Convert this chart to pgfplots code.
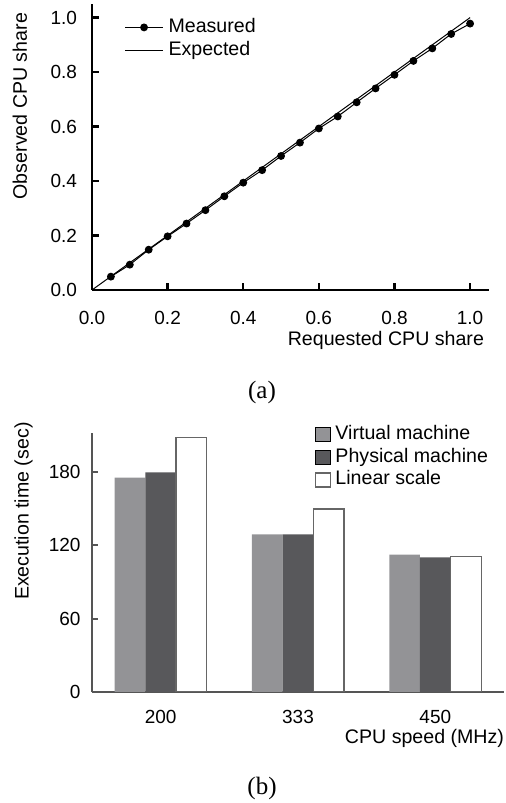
\documentclass[border=0pt]{standalone}
\usepackage{pgfplots}
\pgfplotsset{compat=1.18}
\usepackage{fontspec}
\setmainfont{Liberation Sans}
\newfontfamily\capfont{Liberation Serif}

\definecolor{vmgray}{HTML}{939396}
\definecolor{pmgray}{HTML}{58585B}
\definecolor{axgray}{HTML}{555555}
\definecolor{lsedge}{HTML}{666666}

\tikzset{
  ticksfont/.style={font=\fontsize{9.5bp}{11bp}\selectfont},
  labfont/.style={font=\fontsize{9.8bp}{11.5bp}\selectfont},
}

\begin{document}
\begin{tikzpicture}
\useasboundingbox (0bp,0bp) rectangle (253bp,401.5bp);

% (a) requested vs observed CPU share
\begin{axis}[
  at={(46bp,256.5bp)}, anchor=south west,
  scale only axis, width=198.5bp, height=143bp,
  xmin=0, xmax=1.05, ymin=0, ymax=1.05,
  enlargelimits=false,
  axis lines=left,
  axis line style={-, black, line width=1.15bp},
  tick align=inside, major tick length=3.5bp,
  tick style={black, line width=1.15bp},
  xtick={0,0.2,0.4,0.6,0.8,1},
  xticklabels={0.0,0.2,0.4,0.6,0.8,1.0},
  ytick={0,0.2,0.4,0.6,0.8,1},
  yticklabels={0.0,0.2,0.4,0.6,0.8,1.0},
  ticklabel style={ticksfont},
  xticklabel style={yshift=-7bp},
  yticklabel style={xshift=-4bp},
  xlabel={Requested CPU share},
  ylabel={Observed CPU share},
  xlabel style={labfont, at={(axis description cs:1.005,-0.119)}, anchor=north east},
  ylabel style={labfont, at={(axis description cs:-0.146,0.993)}, anchor=south east},
  legend style={at={(axis description cs:0.081,0.951)}, anchor=north west,
    draw=none, fill=none, inner sep=0pt, row sep=2.5bp, column sep=2.5bp,
    labfont, nodes={inner sep=0pt, text height=7bp, text depth=2bp}},
  legend cell align=left,
  legend image code/.code={\draw[mark repeat=2,mark phase=2,#1]
    plot coordinates {(0bp,0bp) (9.5bp,0bp) (19bp,0bp)};},
]
\addplot[black, line width=0.5bp, mark=*, mark size=1.7bp, mark options={solid}]
  coordinates {
  (0.05,0.049) (0.10,0.093) (0.15,0.148) (0.20,0.197) (0.25,0.244)
  (0.30,0.293) (0.35,0.344) (0.40,0.394) (0.45,0.440) (0.50,0.492)
  (0.55,0.541) (0.60,0.593) (0.65,0.637) (0.70,0.689) (0.75,0.740)
  (0.80,0.790) (0.85,0.841) (0.90,0.887) (0.95,0.940) (1.00,0.978)
  };
\addlegendentry{Measured}
\addplot[black, line width=0.5bp] coordinates {(0,0) (1,1)};
\addlegendentry{Expected}
\end{axis}

% (b) execution time vs CPU speed
\begin{axis}[
  at={(46bp,55.5bp)}, anchor=south west,
  scale only axis, width=206bp, height=129.5bp,
  xmin=-0.5, xmax=2.5, ymin=0, ymax=212,
  axis lines=left,
  axis line style={-, axgray, line width=1bp},
  ybar=0pt, bar width=15.35bp,
  tick align=inside, major tick length=3bp,
  xtick={0,1,2}, xticklabels={200,333,450},
  xtick style={draw=none},
  ytick={0,60,120,180},
  ytick style={axgray, line width=1bp},
  /pgf/number format/assume math mode=true,
  ticklabel style={ticksfont},
  xticklabel style={yshift=-5.75bp},
  yticklabel style={xshift=-2.25bp},
  xlabel={CPU speed (MHz)},
  ylabel={Execution time (sec)},
  xlabel style={labfont, at={(axis description cs:1.017,-0.116)}, anchor=north east},
  ylabel style={labfont, at={(axis description cs:-0.127,1.068)}, anchor=south east},
  legend style={at={(axis description cs:0.541,1.031)}, anchor=north west,
    draw=none, fill=none, inner sep=0pt, row sep=2.4bp, column sep=2bp,
    labfont, nodes={inner sep=0pt, text height=7bp, text depth=2bp}},
  legend cell align=left,
  legend image code/.code={\draw[#1] (0bp,-3.5bp) rectangle (7.5bp,3.5bp);},
]
\addplot[fill=vmgray, draw=none] coordinates {(0,175.4) (1,129.0) (2,112.4)};
\addlegendentry{Virtual machine}
\addplot[fill=pmgray, draw=none] coordinates {(0,179.8) (1,129.0) (2,110.2)};
\addlegendentry{Physical machine}
\addplot[fill=white, draw=lsedge, line width=0.6bp] coordinates {(0,208.6) (1,149.8) (2,110.8)};
\addlegendentry{Linear scale}
\end{axis}

\node[font=\capfont\fontsize{12.5bp}{14bp}\selectfont] at (131bp,205.5bp) {(a)};
\node[font=\capfont\fontsize{12.5bp}{14bp}\selectfont] at (131bp,7.5bp) {(b)};
\end{tikzpicture}
\end{document}
